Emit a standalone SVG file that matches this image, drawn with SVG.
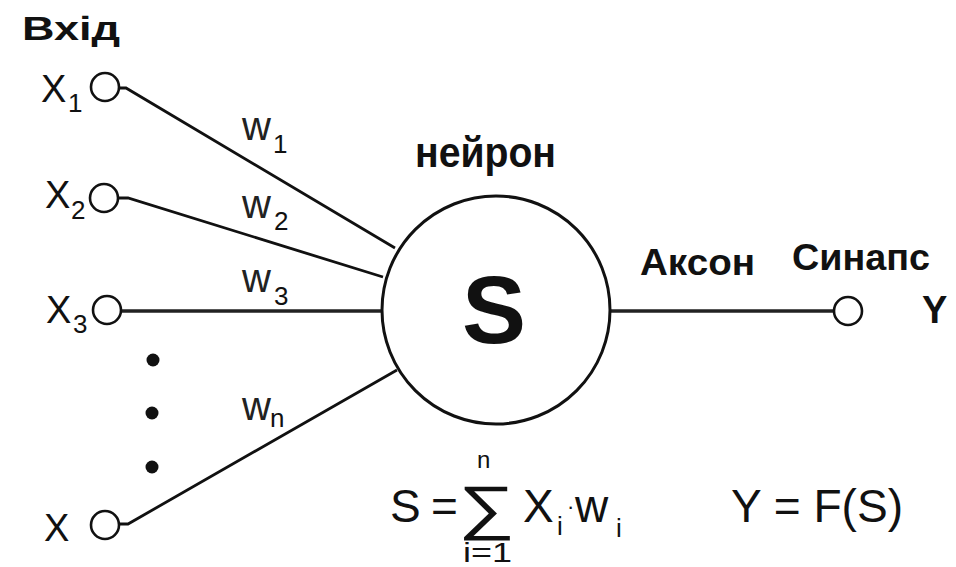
<svg xmlns="http://www.w3.org/2000/svg" width="956" height="567" viewBox="0 0 956 567">
  <style>
    .bg { fill: #ffffff; }
    .port { fill: #ffffff; stroke: #111111; stroke-width: 2.6; }
    .soma { fill: #ffffff; stroke: #111111; stroke-width: 3; }
    .wire { fill: none; stroke: #111111; stroke-width: 2.8; stroke-linecap: butt; }
    .wire.thick { stroke-width: 3.6; stroke: #222222; }
    .dot { fill: #111111; }
    .t { font-family: "Liberation Sans", Arial, sans-serif; fill: #111111; }
    .b { font-weight: bold; }
    .sub { font-size: 26px; }
    .w { font-size: 40px; fill: #222222; }
    .x { font-size: 38px; }
  </style>

  <rect class="bg" x="0" y="0" width="956" height="567"/>

  <!-- title of the input column -->
  <text class="t b" x="22" y="40" font-size="34" textLength="98" lengthAdjust="spacingAndGlyphs">Вхід</text>

  <!-- connectors: weighted inputs and the axon -->
  <g id="connectors">
    <path class="wire" d="M119 88 L126 88 L395 248"/>
    <path class="wire" d="M118 198 L128 198 L383 277"/>
    <path class="wire thick" d="M121 311 L381 311"/>
    <path class="wire" d="M120 524 L128 524 L397 370"/>
    <path class="wire thick" d="M610 311 L834 311"/>
  </g>

  <!-- input x1 -->
  <g id="input-x1">
    <circle class="port" cx="105" cy="87" r="14"/>
    <text class="t x" x="41" y="102">X</text>
    <text class="t sub" x="68" y="112">1</text>
    <text class="t w" x="242" y="140">w</text>
    <text class="t sub" x="273" y="153">1</text>
  </g>

  <!-- input x2 -->
  <g id="input-x2">
    <circle class="port" cx="104" cy="198" r="14"/>
    <text class="t x" x="45" y="208">X</text>
    <text class="t sub" x="71" y="219">2</text>
    <text class="t w" x="242" y="218">w</text>
    <text class="t sub" x="274" y="230">2</text>
  </g>

  <!-- input x3 -->
  <g id="input-x3">
    <circle class="port" cx="107" cy="310" r="14"/>
    <text class="t x" x="46" y="323">X</text>
    <text class="t sub" x="73" y="333">3</text>
    <text class="t w" x="242" y="292">w</text>
    <text class="t sub" x="274" y="305">3</text>
  </g>

  <!-- ellipsis between inputs -->
  <g id="ellipsis">
    <circle class="dot" cx="153" cy="360" r="6.5"/>
    <circle class="dot" cx="152" cy="413" r="6.5"/>
    <circle class="dot" cx="152" cy="467" r="6.5"/>
  </g>

  <!-- input xn -->
  <g id="input-xn">
    <circle class="port" cx="105" cy="525" r="14"/>
    <text class="t x" x="44" y="541">X</text>
    <text class="t w" x="242" y="420">w</text>
    <text class="t sub" x="270" y="427">n</text>
  </g>

  <!-- neuron body -->
  <g id="neuron">
    <text class="t b" x="415" y="167" font-size="42" textLength="141" lengthAdjust="spacingAndGlyphs">нейрон</text>
    <circle class="soma" cx="496" cy="310" r="114"/>
    <text class="t b" x="494" y="343" font-size="96" text-anchor="middle">S</text>
  </g>

  <!-- axon label -->
  <text class="t b" x="640" y="275" font-size="36" textLength="115" lengthAdjust="spacingAndGlyphs">Аксон</text>

  <!-- output synapse -->
  <g id="synapse">
    <circle class="port" cx="848" cy="311" r="14"/>
    <text class="t b" x="792" y="270" font-size="36" textLength="138" lengthAdjust="spacingAndGlyphs">Синапс</text>
    <text class="t b" x="922" y="323" font-size="38">Y</text>
  </g>

  <!-- weighted sum -->
  <g id="sum-formula">
    <text class="t" x="390" y="522" font-size="46">S</text>
    <text class="t" x="431" y="522" font-size="46">=</text>
    <text class="t" x="458" y="528" font-family="'DejaVu Sans', sans-serif" font-size="60" textLength="57" lengthAdjust="spacingAndGlyphs">∑</text>
    <text class="t" x="477" y="468" font-size="24">n</text>
    <text class="t" x="463" y="562" font-size="27" textLength="49" lengthAdjust="spacingAndGlyphs">i=1</text>
    <text class="t" x="523" y="522" font-size="46">X</text>
    <text class="t sub" x="557" y="535">i</text>
    <text class="t" x="567" y="514" font-size="22">·</text>
    <text class="t" x="575" y="522" font-size="46">w</text>
    <text class="t sub" x="616" y="537">i</text>
  </g>

  <!-- activation -->
  <text class="t" x="731" y="522" font-size="46" textLength="172" lengthAdjust="spacingAndGlyphs">Y = F(S)</text>
</svg>
